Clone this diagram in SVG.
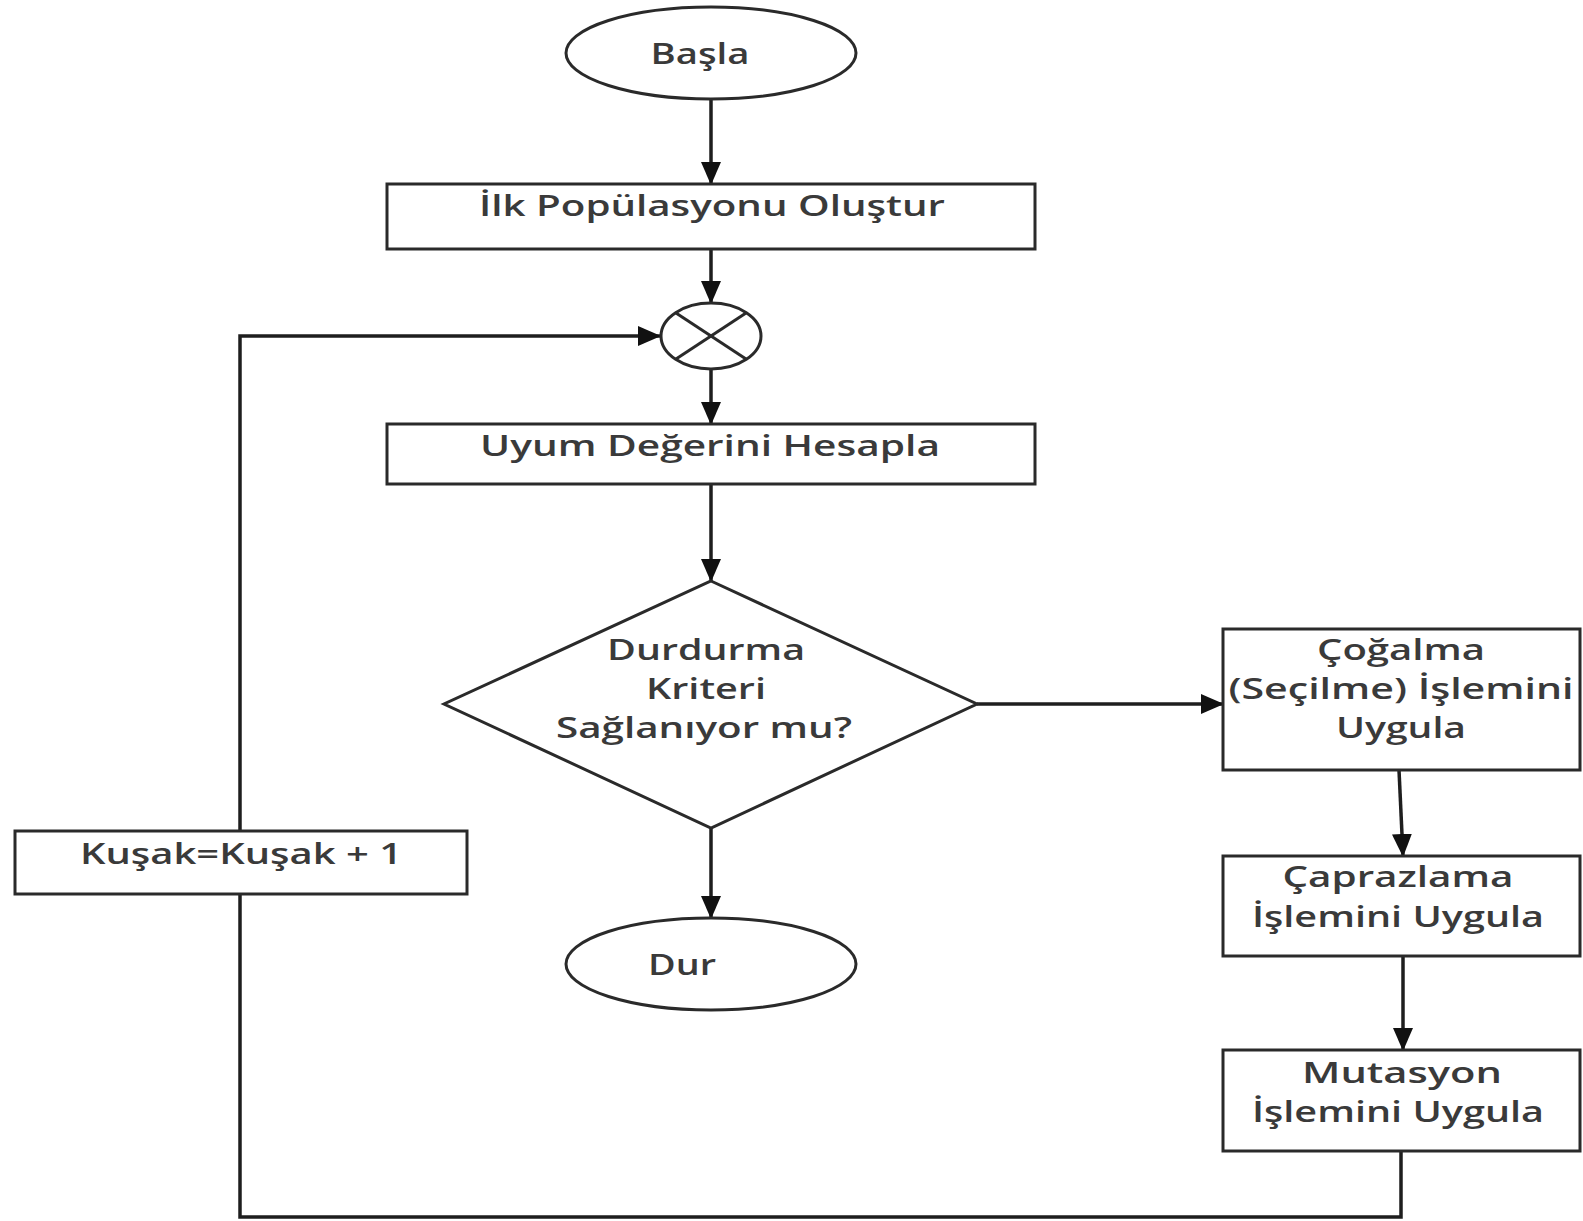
<svg xmlns="http://www.w3.org/2000/svg" width="1583" height="1221" viewBox="0 0 1583 1221">
<style>
.shape{fill:#fff;stroke:#2a2a2a;stroke-width:3}
.conn{fill:none;stroke:#1e1e1e;stroke-width:3.5}
.lbl{font-family:"Open Sans","DejaVu Sans","Liberation Sans",sans-serif;font-weight:600;font-size:28px;fill:#3a3a3a;text-anchor:middle}
</style>
<defs>
<marker id="arr" markerUnits="userSpaceOnUse" markerWidth="24" markerHeight="24" viewBox="0 0 24 24" refX="22" refY="12" orient="auto">
<path d="M0,2 L23,12 L0,22 Z" fill="#111"/>
</marker>
</defs>
<rect width="1583" height="1221" fill="#fff"/>
<g id="connectors">
<line class="conn" x1="711" y1="99" x2="711" y2="184" marker-end="url(#arr)"/>
<line class="conn" x1="711" y1="249" x2="711" y2="303" marker-end="url(#arr)"/>
<line class="conn" x1="711" y1="369" x2="711" y2="424" marker-end="url(#arr)"/>
<line class="conn" x1="711" y1="484" x2="711" y2="581" marker-end="url(#arr)"/>
<line class="conn" x1="711" y1="828" x2="711" y2="918" marker-end="url(#arr)"/>
<line class="conn" x1="977" y1="704" x2="1223" y2="704" marker-end="url(#arr)"/>
<line class="conn" x1="1399" y1="770" x2="1403" y2="856" marker-end="url(#arr)"/>
<line class="conn" x1="1403" y1="956" x2="1403" y2="1050" marker-end="url(#arr)"/>
<polyline class="conn" points="1401,1151 1401,1217 240,1217 240,894"/>
<polyline class="conn" points="240,831 240,336 660,336" marker-end="url(#arr)"/>
</g>
<g id="start">
<ellipse class="shape" cx="711" cy="53" rx="145" ry="46"/>
<text class="lbl" x="700" y="64" textLength="99" lengthAdjust="spacingAndGlyphs">Başla</text>
</g>
<g id="init">
<rect class="shape" x="387" y="184" width="648" height="65"/>
<text class="lbl" x="712" y="216" textLength="466" lengthAdjust="spacingAndGlyphs">İlk Popülasyonu Oluştur</text>
</g>
<g id="junction">
<ellipse class="shape" cx="711" cy="336" rx="50" ry="33"/>
<line class="shape" x1="676" y1="313" x2="746" y2="359"/>
<line class="shape" x1="676" y1="359" x2="746" y2="313"/>
</g>
<g id="fitness">
<rect class="shape" x="387" y="424" width="648" height="60"/>
<text class="lbl" x="710" y="456" textLength="460" lengthAdjust="spacingAndGlyphs">Uyum Değerini Hesapla</text>
</g>
<g id="decision">
<polygon class="shape" points="711,581 977,704 711,828 444,704"/>
<text class="lbl" x="706" y="660" textLength="198" lengthAdjust="spacingAndGlyphs">Durdurma</text>
<text class="lbl" x="706" y="699" textLength="120" lengthAdjust="spacingAndGlyphs">Kriteri</text>
<text class="lbl" x="704" y="738" textLength="296" lengthAdjust="spacingAndGlyphs">Sağlanıyor mu?</text>
</g>
<g id="stop">
<ellipse class="shape" cx="711" cy="964" rx="145" ry="46"/>
<text class="lbl" x="682" y="975" textLength="68" lengthAdjust="spacingAndGlyphs">Dur</text>
</g>
<g id="selection">
<rect class="shape" x="1223" y="629" width="357" height="141"/>
<text class="lbl" x="1401" y="660" textLength="168" lengthAdjust="spacingAndGlyphs">Çoğalma</text>
<text class="lbl" x="1401" y="699" textLength="345" lengthAdjust="spacingAndGlyphs">(Seçilme) İşlemini</text>
<text class="lbl" x="1401" y="738" textLength="130" lengthAdjust="spacingAndGlyphs">Uygula</text>
</g>
<g id="crossover">
<rect class="shape" x="1223" y="856" width="357" height="100"/>
<text class="lbl" x="1398" y="887" textLength="231" lengthAdjust="spacingAndGlyphs">Çaprazlama</text>
<text class="lbl" x="1398" y="927" textLength="292" lengthAdjust="spacingAndGlyphs">İşlemini Uygula</text>
</g>
<g id="mutation">
<rect class="shape" x="1223" y="1050" width="357" height="101"/>
<text class="lbl" x="1402" y="1083" textLength="200" lengthAdjust="spacingAndGlyphs">Mutasyon</text>
<text class="lbl" x="1398" y="1122" textLength="292" lengthAdjust="spacingAndGlyphs">İşlemini Uygula</text>
</g>
<g id="generation">
<rect class="shape" x="15" y="831" width="452" height="63"/>
<text class="lbl" x="241" y="864" textLength="322" lengthAdjust="spacingAndGlyphs">Kuşak=Kuşak + 1</text>
</g>
</svg>
